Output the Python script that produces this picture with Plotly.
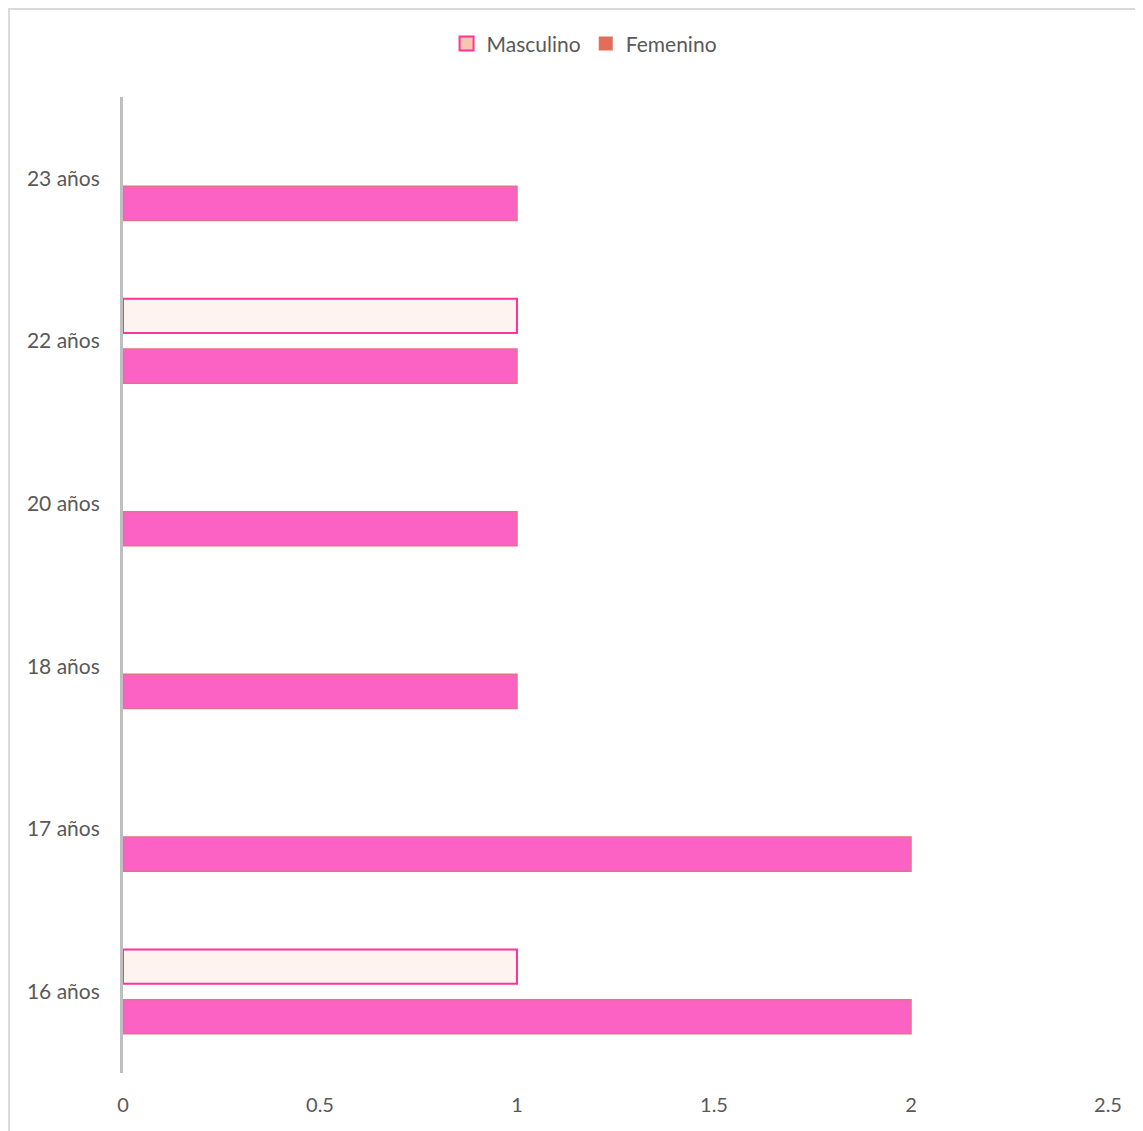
import plotly.graph_objects as go

categories = ["16 años", "17 años", "18 años", "20 años", "22 años", "23 años"]
masculino = [1, None, None, None, 1, None]
femenino = [2, 2, 1, 1, 1, 1]
x_ticks = [0, 0.5, 1, 1.5, 2, 2.5]
x_tick_labels = ["0", "0.5", "1", "1.5", "2", "2.5"]

FONT = "Lato"
TXT = "#595959"

fig = go.Figure()

# real bars (legend handled by proxy markers)
fig.add_trace(go.Bar(
    y=categories, x=femenino, orientation="h", name="Femenino",
    width=0.21, offset=-0.259,
    marker=dict(color="#FC62C4", line=dict(color="#E6708C", width=1.5)),
    showlegend=False, hoverinfo="x+y",
))
fig.add_trace(go.Bar(
    y=categories, x=masculino, orientation="h", name="Masculino",
    width=0.21, offset=0.049,
    marker=dict(color="#FEF3EE", line=dict(color="#FF3399", width=2)),
    showlegend=False, hoverinfo="x+y",
))

# legend proxies
fig.add_trace(go.Scatter(
    x=[None], y=[None], mode="markers", name="Masculino",
    marker=dict(symbol="square", size=14, color="#F8C5B0",
                line=dict(color="#FF3399", width=2)),
))
fig.add_trace(go.Scatter(
    x=[None], y=[None], mode="markers", name="Femenino",
    marker=dict(symbol="square", size=14, color="#E46C5A",
                line=dict(color="#E46C5A", width=0)),
))

fig.update_layout(
    width=1135, height=1123,
    margin=dict(l=115, r=35, t=89, b=58),
    paper_bgcolor="white", plot_bgcolor="white",
    barmode="overlay",
    font=dict(family=FONT, size=21, color=TXT),
    legend=dict(
        orientation="h", xref="container", yref="container",
        x=0.508, xanchor="center", y=0.968, yanchor="middle",
        font=dict(family=FONT, size=21, color=TXT),
        itemwidth=30, tracegroupgap=0,
    ),
    xaxis=dict(
        range=[0, 2.5], tickvals=x_ticks, ticktext=x_tick_labels,
        showgrid=False, zeroline=False, showline=False,
        ticks="outside", ticklen=14, tickcolor="rgba(0,0,0,0)",
        tickfont=dict(family=FONT, size=20, color=TXT),
    ),
    yaxis=dict(
        type="category", categoryorder="array", categoryarray=categories,
        range=[-0.5, 5.5],
        showgrid=False, zeroline=False,
        showline=True, linecolor="#BFBFBF", linewidth=3,
        ticks="outside", ticklen=16, tickcolor="rgba(0,0,0,0)",
        tickfont=dict(family=FONT, size=21, color=TXT),
    ),
    shapes=[dict(
        type="rect", xref="paper", yref="paper",
        x0=-0.1157, x1=1.3, y0=-0.3, y1=1.0902,
        line=dict(color="#D9D9D9", width=2), fillcolor="rgba(0,0,0,0)",
        layer="below",
    )],
)

fig.write_html("out.html")
